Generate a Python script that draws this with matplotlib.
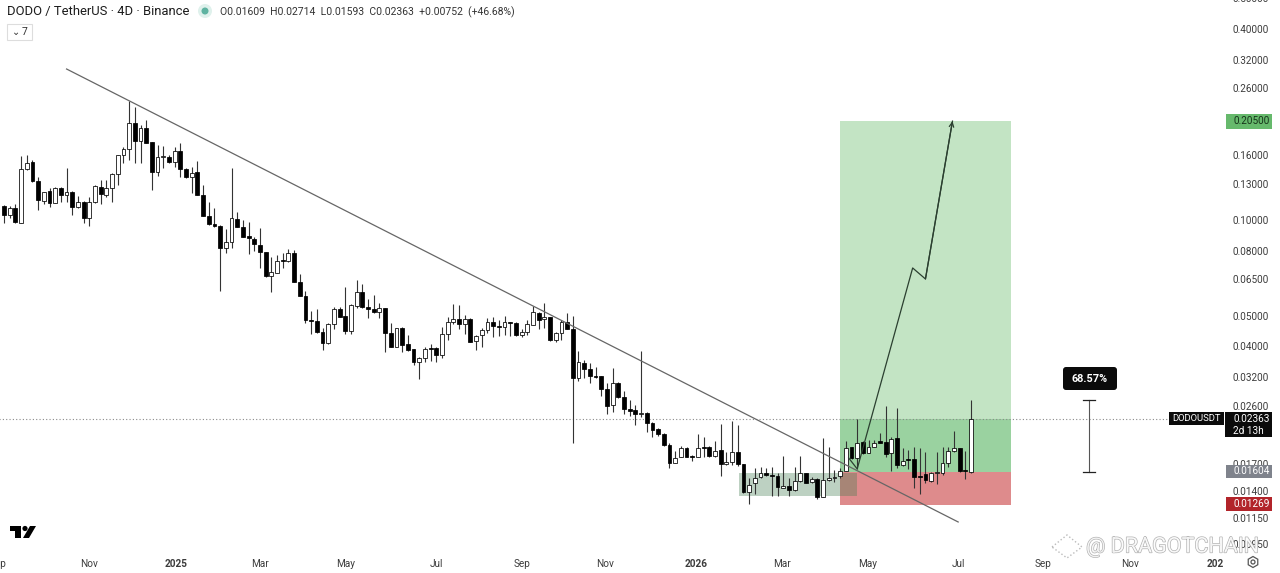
import matplotlib
matplotlib.use('Agg')
import matplotlib.pyplot as plt
import matplotlib.dates as mdates
import matplotlib.patheffects as pe
from matplotlib.patches import Rectangle, FancyBboxPatch, Polygon, Circle, RegularPolygon
from matplotlib.transforms import Affine2D
import numpy as np
import pandas as pd

plt.rcParams['font.family'] = ['Roboto', 'DejaVu Sans']

primeira_data = '2024-09-02'
abre = [.1107,.1037,.1091,.0979,.1448,.1524,.1328,.1148,.1235,.1132,.1262,.1199,.1226,.1099,.1140,.1015,.1140,.1271,.1199,.1262,
        .1397,.1603,.1675,.2022,.1775,.1950,.1762,.1417,.1580,.1580,.1524,.1650,.1448,.1367,.1417,.1199,.1030,.0972,.0958,.0817,
        .0853,.1008,.0951,.0891,.0872,.0834,.0793,.0666,.0681,.0748,.0743,.0787,.0638,.0576,.0484,.0481,.0444,.0410,.0470,.0525,
        .0499,.0447,.0536,.0593,.0532,.0525,.0513,.0528,.0441,.0398,.0457,.0407,.0392,.0357,.0368,.0395,.0395,.0376,.0438,.0477,
        .0488,.0470,.0488,.0416,.0434,.0450,.0477,.0464,.0460,.0477,.0474,.0434,.0444,.0467,.0509,.0488,.0495,.0419,.0441,.0477,
        .0454,.0318,.0355,.0339,.0323,.0323,.0294,.0261,.0307,.0277,.0254,.0252,.0245,.0247,.02294,.02196,.02118,.01955,.01716,.01792,
        .01913,.01805,.01792,.01927,.01927,.01805,.01885,.01704,.01729,.01858,.01704,.01391,.01484,.01550,.01596,.01573,.01562,.01431,.01452,.01411,
        .01506,.01596,.01495,.01528,.01341,.01517,.01539,.01562,.01619,.01927,.01779,.01998,.01844,.01927,.02012,.01998,.01844,.02057,.01692,.01766,
        .01766,.01562,.01584,.01506,.01596,.01596,.01716,.01871,.01913,.01631,.01609]
alta = [.1115,.1107,.1124,.1592,.1603,.1546,.1367,.1226,.1262,.1271,.1271,.1459,.1235,.1191,.1148,.1182,.1290,.1337,.1337,.1407,
        .1603,.1699,.2372,.2271,.1993,.2067,.1762,.1724,.1711,.1603,.1699,.1749,.1459,.1470,.1535,.1290,.1140,.1091,.0965,.0937,
        .1459,.1060,.1000,.0986,.0884,.0944,.0793,.0765,.0776,.0787,.0811,.0805,.0676,.0598,.0517,.0525,.0457,.0474,.0532,.0532,
        .0615,.0544,.0647,.0629,.0564,.0581,.0548,.0528,.0474,.0457,.0460,.0434,.0392,.0370,.0398,.0407,.0398,.0460,.0495,.0544,
        .0540,.0502,.0491,.0434,.0457,.0491,.0495,.0484,.0499,.0477,.0477,.0454,.0484,.0536,.0513,.0548,.0495,.0444,.0484,.0509,
        .0499,.0387,.0362,.0355,.0344,.0323,.0307,.0342,.0309,.0289,.0271,.0261,.0387,.0248,.02310,.02212,.02133,.01983,.01871,.01941,
        .01927,.01818,.02118,.02072,.01941,.02012,.02277,.01858,.02327,.02261,.01704,.01539,.01655,.01667,.01655,.01667,.01596,.01805,.01539,.01667,
        .01805,.01596,.01550,.01539,.02057,.01927,.01631,.01655,.02012,.01927,.0236,.02012,.02027,.02027,.02133,.0259,.02072,.0256,.01913,.01885,
        .01927,.01913,.01858,.01608,.01858,.01927,.01927,.02164,.01913,.01871,.02714]
baixa = [.0979,.1015,.0979,.0979,.1438,.1318,.1076,.1124,.1099,.1132,.1140,.1140,.1037,.1091,.0979,.0958,.1132,.1124,.1182,.1140,
         .1290,.1513,.1546,.1513,.1513,.1749,.1244,.1377,.1459,.1513,.1470,.1367,.1357,.1217,.1199,.1030,.0965,.0951,.0598,.0787,
         .0817,.0951,.0884,.0782,.0799,.0706,.0662,.0593,.0681,.0706,.0738,.0638,.0576,.0474,.0438,.0441,.0390,.0407,.0454,.0495,
         .0438,.0438,.0528,.0528,.0491,.0509,.0491,.0384,.0398,.0398,.0384,.0387,.0349,.0316,.0357,.0360,.0357,.0368,.0419,.0470,
         .0454,.0438,.0413,.0390,.0398,.0441,.0428,.0431,.0434,.0431,.0431,.0428,.0434,.0467,.0454,.0457,.0416,.0413,.0419,.0454,
         .01983,.0311,.0318,.0307,.0318,.0279,.0245,.0248,.0275,.0245,.0241,.02261,.0240,.02149,.02072,.02087,.01941,.01655,.01716,.01792,
         .01792,.01741,.01792,.01792,.01792,.01792,.01562,.01692,.01692,.01679,.01381,.01274,.01371,.01539,.01562,.01351,.01351,.01431,.01351,.01401,
         .01495,.01484,.01484,.01322,.01341,.01506,.01495,.01539,.01619,.01766,.01643,.01831,.01844,.01927,.01983,.01792,.01619,.01655,.01679,.01643,
         .01431,.01371,.01484,.01495,.01474,.01573,.01667,.01858,.01608,.01528,.01593]
fecha = [.1037,.1091,.0986,.1448,.1513,.1328,.1157,.1226,.1132,.1262,.1199,.1226,.1099,.1140,.1015,.1140,.1280,.1208,.1262,.1397,
         .1603,.1675,.2022,.1775,.1950,.1749,.1417,.1580,.1592,.1524,.1650,.1448,.1367,.1407,.1199,.1030,.0972,.0958,.0817,.0853,
         .1015,.0951,.0884,.0878,.0841,.0793,.0666,.0686,.0743,.0743,.0787,.0638,.0576,.0484,.0481,.0444,.0410,.0470,.0525,.0495,
         .0447,.0540,.0593,.0532,.0525,.0513,.0528,.0441,.0398,.0457,.0404,.0390,.0357,.0368,.0392,.0392,.0376,.0438,.0477,.0488,
         .0470,.0488,.0413,.0431,.0450,.0477,.0464,.0460,.0477,.0474,.0434,.0444,.0470,.0513,.0484,.0495,.0419,.0441,.0477,.0454,
         .0318,.0357,.0339,.0323,.0320,.0294,.0259,.0307,.0277,.0254,.0250,.0245,.0247,.02294,.02180,.02118,.01955,.01716,.01779,.01913,
         .01792,.01792,.01913,.01913,.01805,.01871,.01704,.01729,.01858,.01704,.01391,.01463,.01539,.01596,.01573,.01562,.01442,.01452,.01411,.01506,
         .01596,.01484,.01528,.01341,.01517,.01539,.01550,.01619,.01913,.01779,.01983,.01844,.01927,.01983,.01983,.01831,.02042,.01692,.01741,.01754,
         .01550,.01550,.01517,.01596,.01608,.01716,.01871,.01913,.01619,.01619,.02363]

meses = ['Sep', 'Nov', '2025', 'Mar', 'May', 'Jul', 'Sep', 'Nov', '2026', 'Mar', 'May', 'Jul', 'Sep', 'Nov', '202']
datas_meses = ['2024-08-29', '2024-11-01', '2025-01-01', '2025-03-01', '2025-04-30', '2025-07-03', '2025-09-01',
               '2025-10-30', '2026-01-02', '2026-03-03', '2026-05-02', '2026-07-05', '2026-09-03', '2026-11-03', '2027-01-02']
# 0.20 e 0.021 ficam escondidos atras das etiquetas no print
precos_eixo = [0.5, 0.4, 0.32, 0.26, 0.16, 0.13, 0.1, 0.08, 0.065, 0.05, 0.04, 0.032, 0.026, 0.017, 0.014, 0.0115, 0.0095]

preco_atual = 0.02363
entrada = 0.01604
alvo = 0.205
stop = 0.01269
medida = [0.01609, 0.02714]

tendencia_datas = ['2024-10-16', '2026-07-05']
tendencia_precos = [0.2992, 0.01118]
seta_datas = ['2026-04-19', '2026-04-25', '2026-06-03', '2026-06-12', '2026-07-01']
seta_precos = [0.01779, 0.01643, 0.07062, 0.0652, 0.205]
zona_datas = ['2026-02-01', '2026-04-25']
zona_precos = [0.01352, 0.01596]
posicao_datas = ['2026-04-13', '2026-08-11']
medida_data = '2026-10-05'


def num(d):
    return mdates.date2num(pd.Timestamp(d))


fig = plt.figure(figsize=(12.8, 5.73), dpi=100)
# eixo passa um pouco do topo e da esquerda, como no print cortado
ax = fig.add_axes([-20 / 1280, 25 / 573, 1245 / 1280, 558 / 573])
ax.set_yscale('log')
x0 = num(primeira_data)
ax.set_xlim(x0 - 24 / 1.422, x0 + 1221 / 1.422)
ax.set_ylim(0.009256, 0.5308)
for s in ax.spines.values():
    s.set_visible(False)

ax.yaxis.tick_right()
ax.set_yticks(precos_eixo)
ax.set_yticklabels([f'{p:.5f}' for p in precos_eixo])
ax.minorticks_off()
ax.tick_params(axis='y', length=0, pad=5.5, labelsize=7.2, labelcolor='#3c3c3c')
ax.set_xticks([num(d) for d in datas_meses])
ax.set_xticklabels(meses)
ax.tick_params(axis='x', length=0, pad=8, labelsize=7.2, labelcolor='#3c3c3c')
for lab in ax.get_xticklabels():
    if lab.get_text() in ('2025', '2026', '202'):
        lab.set_fontweight('bold')

# zonas
a, b = num(posicao_datas[0]), num(posicao_datas[1])
ax.add_patch(Rectangle((a, entrada), b - a, alvo - entrada, fc='#c3e4c4', ec='none', zorder=1))
ax.add_patch(Rectangle((a, entrada), b - a, preco_atual - entrada, fc='#9ad2a0', ec='none', zorder=1.1))
ax.add_patch(Rectangle((a, stop), b - a, entrada - stop, fc='#de8b8c', ec='none', zorder=1))
za, zb = num(zona_datas[0]), num(zona_datas[1])
ax.add_patch(Rectangle((za, zona_precos[0]), zb - za, zona_precos[1] - zona_precos[0],
                       fc='#3f7a4c', ec='none', alpha=0.34, zorder=1.2))

ax.axhline(preco_atual, color='#8a8a8a', lw=0.8, ls=(0, (1, 2)), zorder=1.5)

# candles
datas = x0 + 4 * np.arange(len(abre))
abre, alta, baixa, fecha = map(np.array, (abre, alta, baixa, fecha))
sobe = fecha >= abre
ax.vlines(datas, baixa, alta, color='#333333', lw=0.8, zorder=3)
topo = np.maximum(abre, fecha)
base = np.minimum(abre, fecha)
ax.bar(datas, topo - base, bottom=base, width=2.7, color=np.where(sobe, 'white', 'black'),
       edgecolor='black', linewidth=0.55, zorder=4)

# linhas desenhadas
ax.plot([num(d) for d in tendencia_datas], tendencia_precos, color='#666666', lw=0.9, zorder=5)
sx = [num(d) for d in seta_datas]
ax.plot(sx, seta_precos, color='#2b3f30', lw=0.9, zorder=5)
ax.annotate('', xy=(sx[-1], seta_precos[-1]), xytext=(sx[-2], seta_precos[-2]), zorder=5,
            arrowprops=dict(arrowstyle='->', color='#2b3f30', lw=0.9, mutation_scale=8, shrinkA=0, shrinkB=0))

md = num(medida_data)
ax.plot([md, md], medida, color='#555555', lw=0.8, zorder=5)
ax.plot([md - 4.5, md + 4.5], [medida[0], medida[0]], color='#222222', lw=0.9, zorder=5)
ax.plot([md - 4.5, md + 4.5], [medida[1], medida[1]], color='#222222', lw=0.9, zorder=5)

# coisas fixas da tela, em pixels do print
px = Affine2D().scale(1 / 1280, -1 / 573).translate(0, 1) + fig.transFigure


def caixa(x1, y1, x2, y2, cor):
    fig.add_artist(Rectangle((x1, y1), x2 - x1, y2 - y1, fc=cor, ec='none', transform=px, zorder=3))


def etiqueta(x, y, s, cor='white', tam=7.2, **kw):
    fig.text(x, y, s, color=cor, fontsize=tam, va='center', transform=px, zorder=4, **kw)


caixa(1169, 412, 1224, 425, '#0b0b0b')
etiqueta(1172, 418.5, 'DODOUSDT', tam=6.8)
caixa(1225, 412, 1272, 437, '#0b0b0b')
etiqueta(1233, 418.5, '0.02363')
etiqueta(1233, 430.5, '2d 13h')
caixa(1226, 465, 1272, 478, '#7f838c')
etiqueta(1233, 471.5, '0.01604')
caixa(1226, 497, 1272, 511, '#b2242a')
etiqueta(1233, 504, '0.01269')
caixa(1226, 114, 1272, 129, '#66b96c')
etiqueta(1233, 121.5, '0.20500', cor='#16331a')

fig.add_artist(FancyBboxPatch((1065, 369), 50, 19, boxstyle='round,pad=2,rounding_size=3',
                              fc='#0b0b0b', ec='none', transform=px, zorder=3))
etiqueta(1090, 378.5, '68.57%', tam=7.8, ha='center', fontweight='bold')

# cabecalho
etiqueta(7, 12, 'DODO / TetherUS · 4D · Binance', cor='#1c1c1c', tam=9.4)
fig.add_artist(Circle((205, 11), 7, fc='#dff1ec', ec='none', transform=px, zorder=3))
fig.add_artist(Circle((205, 11), 3.5, fc='#5fb3a1', ec='none', transform=px, zorder=3))
etiqueta(220, 12, 'O0.01609  H0.02714  L0.01593  C0.02363  +0.00752  (+46.68%)', cor='#333333', tam=7.5)
fig.add_artist(Rectangle((7, 24), 25, 16, fc='white', ec='#dddddd', lw=0.8, transform=px, zorder=3))
etiqueta(12, 32, '⌄', cor='#333333', tam=7, family=['DejaVu Sans'])
etiqueta(22, 32, '7', cor='#333333', tam=7.5)

# logo
fig.add_artist(Polygon([(10, 526), (21, 526), (21, 538), (15, 538), (15, 531), (10, 531)], fc='black', ec='none', transform=px, zorder=3))
fig.add_artist(Circle((25, 528.5), 2.6, fc='black', ec='none', transform=px, zorder=3))
fig.add_artist(Polygon([(23, 538), (29, 538), (36, 526), (30, 526)], fc='black', ec='none', transform=px, zorder=3))

# engrenagem
fig.add_artist(RegularPolygon((1253, 562), 6, radius=5.5, fc='none', ec='#555555', lw=0.9, transform=px, zorder=3))
fig.add_artist(Circle((1253, 562), 2, fc='none', ec='#555555', lw=0.9, transform=px, zorder=3))

# marca d'agua
fig.add_artist(Polygon([(1052, 547), (1067, 535), (1082, 547), (1067, 558)], fc='none', ec='#bbbbbb', lw=1.0, ls=':', transform=px, zorder=5))
marca = fig.text(1086, 547, '@ DRAGOTCHAIN', fontsize=15.5, va='center', color='white', alpha=0.85, transform=px, zorder=5)
marca.set_path_effects([pe.Stroke(linewidth=0.9, foreground='#a0a0a0'), pe.Normal()])

fig.savefig('out.png', dpi=100)
